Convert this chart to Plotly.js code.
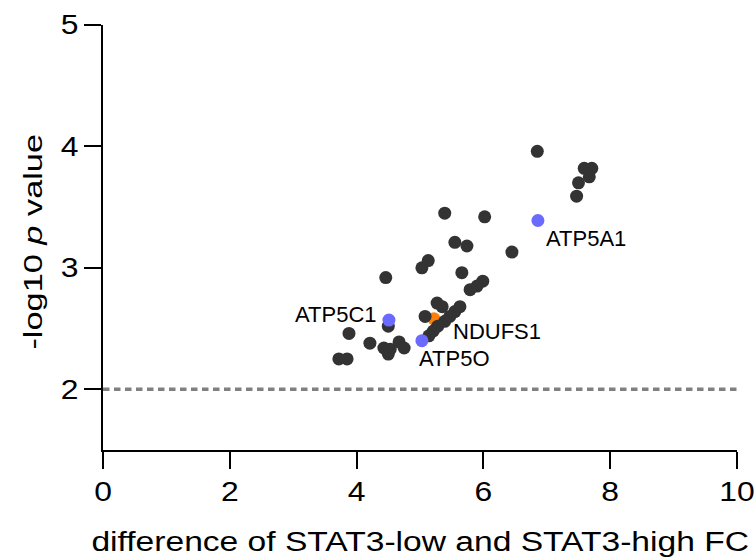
<!DOCTYPE html>
<html>
<head>
<meta charset="utf-8">
<script src="https://cdn.plot.ly/plotly-3.0.1.min.js"></script>
<style>
html,body{margin:0;padding:0;background:#fff;}
#chart{width:756px;height:557px;}
</style>
</head>
<body>
<div id="chart"></div>
<script>
// ---- data ----
const otherX = [6.85,7.59,7.71,7.67,7.50,7.47,5.39,6.02,5.55,5.74,6.45,5.13,5.03,4.46,5.66,5.99,5.90,5.79,5.27,5.35,5.63,5.55,5.47,5.39,5.08,5.28,5.21,5.14,4.50,3.88,4.21,4.43,4.53,4.50,4.67,4.75,3.72,3.85];
const otherY = [3.96,3.82,3.82,3.75,3.70,3.59,3.45,3.42,3.21,3.18,3.13,3.06,3.00,2.92,2.96,2.89,2.85,2.82,2.71,2.68,2.68,2.64,2.60,2.56,2.60,2.52,2.48,2.44,2.52,2.46,2.38,2.34,2.33,2.29,2.39,2.34,2.25,2.25];
const atpNames = ['ATP5A1','ATP5C1','ATP5O'];
const atpX = [6.86,4.51,5.03];
const atpY = [3.39,2.57,2.40];
const ndufsNames = ['NDUFS1'];
const ndufsX = [5.22];
const ndufsY = [2.58];
const xTickVals = [0,2,4,6,8,10];
const yTickVals = [2,3,4,5];
const threshold = 2;
const xTitle = 'difference of STAT3-low and STAT3-high FC';
const yTitle = '-log10 <i>p</i> value';

// ---- styles ----
const FONT = 'Liberation Sans, Arial, Helvetica, sans-serif';
const labelStyle = {
  'ATP5A1': {xanchor:'left',  xshift:6,   yshift:-18},
  'ATP5C1': {xanchor:'right', xshift:-10, yshift:6},
  'ATP5O':  {xanchor:'left',  xshift:-5,  yshift:-18},
  'NDUFS1': {xanchor:'left',  xshift:17,  yshift:-13}
};

const traces = [
  {type:'scatter', mode:'markers', x:ndufsX, y:ndufsY, text:ndufsNames,
   marker:{size:13, color:'#FF7F0A', line:{width:0}}, hoverinfo:'skip'},
  {type:'scatter', mode:'markers', x:otherX, y:otherY,
   marker:{size:13, color:'#333333', line:{width:0}}, hoverinfo:'skip'},
  {type:'scatter', mode:'markers', x:atpX, y:atpY, text:atpNames,
   marker:{size:13, color:'#6A6AFF', line:{width:0}}, hoverinfo:'skip'}
];

const annotations = [];
function addLabels(names, xs, ys){
  names.forEach((n,i)=>{
    const s = labelStyle[n];
    annotations.push({x:xs[i], y:ys[i], xref:'x', yref:'y', text:n, showarrow:false,
      xanchor:s.xanchor, yanchor:'middle', xshift:s.xshift, yshift:s.yshift,
      font:{family:FONT, size:22, color:'#000'}});
  });
}
addLabels(atpNames, atpX, atpY);
addLabels(ndufsNames, ndufsX, ndufsY);
const xTitleIdx = annotations.length;
annotations.push({xref:'paper', yref:'paper', x:0.5, y:0, text:xTitle, showarrow:false,
  xanchor:'center', yanchor:'middle', yshift:-91, font:{family:FONT, size:28, color:'#000'}});
const yTitleIdx = annotations.length;
annotations.push({xref:'paper', yref:'paper', x:0, y:0.5, text:yTitle, showarrow:false, textangle:-90,
  xanchor:'center', yanchor:'middle', xshift:-70, yshift:-5, font:{family:FONT, size:26, color:'#000'}});

const axisCommon = {
  ticks:'outside', ticklen:17, tickwidth:2, tickcolor:'#000',
  showline:true, linewidth:2, linecolor:'#000',
  showgrid:false, zeroline:false,
  tickfont:{family:FONT, size:27, color:'#000'}
};

const layout = {
  width:756, height:557,
  margin:{l:103, r:19, t:25, b:107},
  paper_bgcolor:'#fff', plot_bgcolor:'#fff',
  showlegend:false,
  xaxis:Object.assign({range:[0,10], tickmode:'array', tickvals:xTickVals}, axisCommon),
  yaxis:Object.assign({range:[1.5,5], tickmode:'array', tickvals:yTickVals}, axisCommon),
  shapes:[{type:'line', xref:'x', yref:'y', x0:0, x1:10, y0:threshold, y1:threshold,
    layer:'below', line:{color:'#808080', width:3.5, dash:'6.5px,4.5px'}}],
  annotations:annotations
};

function stretch(el, sx, sy, anchor){
  const r = el.getBoundingClientRect();
  let cx = r.left + r.width/2;
  if (anchor === 'right') cx = r.right;
  const cy = r.top + r.height/2;
  const svg = el.ownerSVGElement;
  const m = el.parentNode.getScreenCTM().inverse();
  const p = svg.createSVGPoint(); p.x = cx; p.y = cy;
  const q = p.matrixTransform(m);
  const old = el.getAttribute('transform') || '';
  el.setAttribute('transform', 'translate(' + q.x + ',' + q.y + ') scale(' + sx + ',' + sy + ') translate(' + (-q.x) + ',' + (-q.y) + ') ' + old);
}

Plotly.newPlot('chart', traces, layout, {displayModeBar:false, staticPlot:true}).then(function(gd){
  gd.querySelectorAll('.xtick text').forEach(t => stretch(t, 1.18, 1, 'center'));
  gd.querySelectorAll('.ytick text').forEach(t => stretch(t, 1.18, 1, 'right'));
  const anns = gd.querySelectorAll('.annotation');
  anns.forEach(a => {
    const idx = +a.getAttribute('data-index');
    if (idx === xTitleIdx) stretch(a, 1.2, 1, 'center');
    if (idx === yTitleIdx) stretch(a, 1, 1.32, 'center');
  });
});
</script>
</body>
</html>
